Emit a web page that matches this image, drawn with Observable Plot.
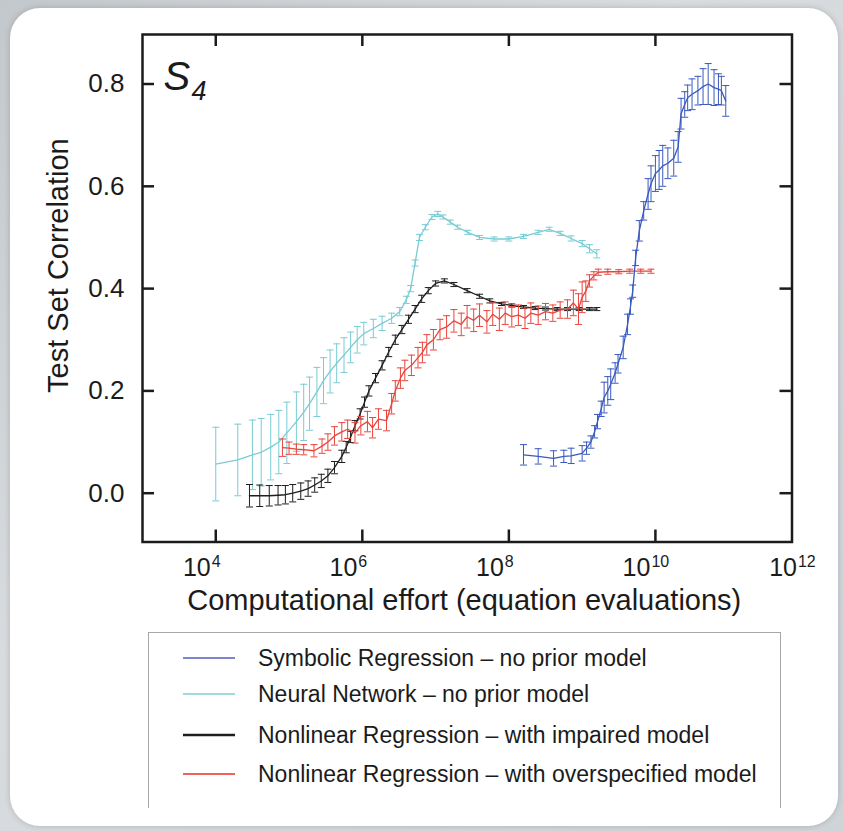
<!DOCTYPE html>
<html>
<head>
<meta charset="utf-8">
<script src="https://cdn.jsdelivr.net/npm/d3@7"></script>
<script src="https://cdn.jsdelivr.net/npm/@observablehq/plot@0.6"></script>
<style>
  html, body { margin: 0; padding: 0; }
  body { width: 843px; height: 831px; overflow: hidden; position: relative;
         background: linear-gradient(135deg, #c3c8cc 0%, #d8dcdf 40%, #cfd4d8 100%);
         font-family: "Liberation Sans", Arial, Helvetica, sans-serif; color: #1b1b1b; }
  #card { position: absolute; left: 10px; top: 8px; width: 828px; height: 818px;
          background: #fff; border-radius: 30px; box-shadow: 0 0 6px rgba(0,0,0,0.18); }
  #chart { position: absolute; left: 0; top: 0; }
  #legend { position: absolute; left: 148px; top: 632px; width: 631px; height: 175px;
            border: 1px solid #a7a7a7; border-bottom: none; }
  .row { position: absolute; left: 0; height: 30px; display: flex; align-items: center; }
  .row svg { margin-left: 34px; }
  .row span { margin-left: 23px; font-size: 23px; white-space: nowrap; }
</style>
</head>
<body>
<div id="card"></div>
<div id="chart"></div>
<div id="legend"></div>
<script>
// ---------- data (x as log10 of equation evaluations) ----------
const seriesNames = [
  "Symbolic Regression \u2013 no prior model",
  "Neural Network \u2013 no prior model",
  "Nonlinear Regression \u2013 with impaired model",
  "Nonlinear Regression \u2013 with overspecified model"
];
const seriesColors = ["#3a59c0", "#79ccd4", "#1e1e1e", "#e8453c"];
const legendColors = ["#7d86cc", "#9fdade", "#1e1e1e", "#f0625b"];

// Symbolic Regression
const srLogX = [8.20,8.40,8.61,8.75,8.85,9.00,9.06,9.12,9.17,9.21,9.26,9.30,9.35,9.39,9.45,9.49,9.56,9.62,9.66,9.69,9.73,9.78,9.84,9.90,9.94,10.00,10.05,10.10,10.17,10.25,10.31,10.35,10.40,10.44,10.50,10.58,10.65,10.72,10.80,10.86,10.90,10.96];
const srY    = [0.075,0.072,0.068,0.072,0.073,0.078,0.088,0.100,0.120,0.140,0.165,0.187,0.200,0.213,0.235,0.253,0.285,0.330,0.365,0.395,0.460,0.513,0.552,0.585,0.605,0.625,0.632,0.640,0.645,0.655,0.677,0.742,0.760,0.773,0.780,0.787,0.795,0.800,0.793,0.790,0.787,0.767];
const srErr  = [0.020,0.015,0.015,0.012,0.015,0.015,0.012,0.012,0.012,0.014,0.015,0.030,0.028,0.030,0.020,0.018,0.022,0.020,0.015,0.012,0.015,0.020,0.018,0.030,0.035,0.035,0.038,0.040,0.030,0.035,0.030,0.030,0.025,0.025,0.030,0.028,0.035,0.040,0.035,0.030,0.028,0.030];

// Neural Network
const nnLogX = [4.00,4.30,4.50,4.62,4.75,4.86,4.97,5.10,5.20,5.28,5.38,5.47,5.56,5.65,5.75,5.84,5.93,6.02,6.15,6.27,6.40,6.51,6.60,6.66,6.72,6.78,6.86,6.95,7.03,7.10,7.20,7.30,7.44,7.60,7.80,8.00,8.20,8.40,8.55,8.70,8.85,9.00,9.10,9.20];
const nnY    = [0.057,0.065,0.075,0.080,0.090,0.100,0.118,0.140,0.158,0.175,0.198,0.220,0.238,0.254,0.270,0.285,0.300,0.312,0.322,0.332,0.342,0.355,0.378,0.400,0.450,0.500,0.520,0.540,0.546,0.540,0.530,0.520,0.510,0.500,0.497,0.497,0.502,0.510,0.516,0.508,0.498,0.488,0.478,0.468];
const nnErr  = [0.072,0.070,0.068,0.066,0.064,0.062,0.060,0.058,0.055,0.052,0.048,0.045,0.042,0.038,0.034,0.030,0.026,0.022,0.018,0.014,0.010,0.008,0.007,0.006,0.006,0.006,0.005,0.005,0.005,0.004,0.004,0.004,0.004,0.004,0.004,0.004,0.004,0.004,0.004,0.004,0.005,0.006,0.008,0.008];

// Nonlinear Regression, impaired model
const niLogX = [4.46,4.60,4.73,4.85,4.95,5.05,5.16,5.26,5.35,5.44,5.53,5.62,5.72,5.78,5.84,5.90,5.97,6.03,6.09,6.18,6.27,6.36,6.45,6.54,6.63,6.72,6.81,6.90,7.00,7.12,7.25,7.43,7.60,7.74,7.90,8.04,8.20,8.36,8.50,8.66,8.80,8.96,9.10,9.20];
const niY    = [-0.005,-0.005,-0.005,-0.004,-0.003,0.000,0.004,0.009,0.016,0.024,0.034,0.050,0.072,0.090,0.110,0.132,0.155,0.178,0.200,0.225,0.250,0.276,0.300,0.320,0.340,0.360,0.380,0.396,0.410,0.415,0.408,0.396,0.385,0.376,0.370,0.367,0.364,0.362,0.361,0.360,0.360,0.360,0.360,0.360];
const niErr  = [0.022,0.021,0.020,0.019,0.018,0.017,0.016,0.015,0.014,0.013,0.013,0.012,0.012,0.011,0.011,0.010,0.010,0.010,0.010,0.009,0.009,0.009,0.009,0.008,0.008,0.007,0.007,0.006,0.005,0.004,0.004,0.004,0.004,0.004,0.003,0.003,0.003,0.003,0.003,0.003,0.003,0.003,0.003,0.003];

// Nonlinear Regression, overspecified model
const noLogX = [4.91,5.00,5.10,5.20,5.34,5.45,5.53,5.62,5.72,5.80,5.90,5.98,6.07,6.14,6.22,6.33,6.40,6.45,6.52,6.58,6.67,6.76,6.82,6.88,6.97,7.06,7.15,7.25,7.35,7.43,7.52,7.60,7.70,7.78,7.87,7.95,8.04,8.13,8.22,8.30,8.40,8.50,8.60,8.70,8.80,8.88,8.95,9.00,9.05,9.10,9.16,9.22,9.35,9.50,9.65,9.80,9.94];
const noY    = [0.089,0.088,0.086,0.085,0.083,0.092,0.100,0.112,0.120,0.125,0.118,0.132,0.140,0.128,0.145,0.142,0.175,0.200,0.225,0.240,0.250,0.265,0.275,0.290,0.300,0.320,0.325,0.337,0.330,0.345,0.338,0.348,0.335,0.350,0.340,0.352,0.345,0.348,0.342,0.352,0.348,0.355,0.352,0.358,0.360,0.372,0.360,0.383,0.395,0.415,0.425,0.432,0.433,0.433,0.434,0.434,0.434];
const noErr  = [0.017,0.012,0.010,0.010,0.012,0.014,0.016,0.018,0.018,0.018,0.020,0.018,0.020,0.020,0.020,0.020,0.020,0.020,0.020,0.020,0.020,0.020,0.020,0.020,0.020,0.020,0.022,0.022,0.022,0.022,0.022,0.022,0.022,0.022,0.022,0.022,0.020,0.020,0.020,0.020,0.018,0.016,0.016,0.016,0.018,0.025,0.030,0.030,0.020,0.012,0.008,0.006,0.005,0.004,0.004,0.004,0.004];

const xTickValues = [1e4, 1e6, 1e8, 1e10];
const xLabelExponents = [4, 6, 8, 10, 12];
const yTickValues = [0, 0.2, 0.4, 0.6, 0.8];
const xTitle = "Computational effort (equation evaluations)";
const yTitle = "Test Set Correlation";
const panelLetter = "S";
const panelIndex = "4";

// ---------- build ----------
function rows(lx, y, e) { return lx.map((v, i) => ({x: 10 ** v, y: y[i], e: e[i]})); }
const series = [
  rows(srLogX, srY, srErr),
  rows(nnLogX, nnY, nnErr),
  rows(niLogX, niY, niErr),
  rows(noLogX, noY, noErr)
];

const cap = { draw(ctx, size) { const w = Math.sqrt(size / Math.PI); ctx.moveTo(-w, 0); ctx.lineTo(w, 0); } };

const W = 843, H = 625, mL = 142, mR = 51.5, mT = 34, mB = 83.5;
const plotW = W - mL - mR, plotH = H - mT - mB;
const tickLen = 12;
const ink = "#1b1b1b";

function seriesMarks(data, color) {
  return [
    Plot.ruleX(data, {x: "x", y1: d => d.y - d.e, y2: d => d.y + d.e, stroke: color, strokeWidth: 1}),
    Plot.dot(data, {x: "x", y: d => d.y + d.e, symbol: cap, r: 3.5, stroke: color, fill: "none", strokeWidth: 1}),
    Plot.dot(data, {x: "x", y: d => d.y - d.e, symbol: cap, r: 3.5, stroke: color, fill: "none", strokeWidth: 1}),
    Plot.line(data, {x: "x", y: "y", stroke: color, strokeWidth: 1.3})
  ];
}

const drawOrder = [1, 2, 3, 0];

const chart = Plot.plot({
  width: W, height: H,
  marginLeft: mL, marginRight: mR, marginTop: mT, marginBottom: mB,
  style: {background: "transparent", fontFamily: "'Liberation Sans', Arial, Helvetica, sans-serif", color: ink, overflow: "visible"},
  x: {type: "log", domain: [1e3, 10 ** 11.864], axis: null},
  y: {domain: [-0.0954, 0.8968], axis: null},
  marks: [
    ...drawOrder.flatMap(i => seriesMarks(series[i], seriesColors[i])),
    Plot.frame({stroke: ink, strokeWidth: 2.5}),
    Plot.tickX(xTickValues, {x: d => d, insetBottom: plotH - tickLen, stroke: ink, strokeWidth: 2.5}),
    Plot.tickX(xTickValues, {x: d => d, insetTop: plotH - tickLen, stroke: ink, strokeWidth: 2.5}),
    Plot.tickY(yTickValues, {y: d => d, insetRight: plotW - tickLen, stroke: ink, strokeWidth: 2.5}),
    Plot.tickY(yTickValues, {y: d => d, insetLeft: plotW - tickLen, stroke: ink, strokeWidth: 2.5}),
    Plot.axisY({ticks: yTickValues, tickSize: 0, tickPadding: 18, fontSize: 26, tickFormat: d3.format(".1f"), label: null, fill: ink}),
    Plot.text(xLabelExponents, {x: d => 10 ** d, text: () => "10", frameAnchor: "bottom", lineAnchor: "middle", textAnchor: "end", dx: -5, dy: 26, fontSize: 25, fill: ink}),
    Plot.text(xLabelExponents, {x: d => 10 ** d, text: d => String(d), frameAnchor: "bottom", lineAnchor: "middle", textAnchor: "start", dx: -4, dy: 20, fontSize: 16, fill: ink}),
    Plot.text([xTitle], {frameAnchor: "bottom", lineAnchor: "middle", dy: 59, dx: -3, fontSize: 29, fill: ink}),
    Plot.text([yTitle], {frameAnchor: "left", y: [0.445], rotate: -90, lineAnchor: "middle", textAnchor: "middle", dx: -84, fontSize: 29, fill: ink}),
    Plot.text([panelLetter], {frameAnchor: "top-left", lineAnchor: "top", textAnchor: "start", dx: 21, dy: 27, fontSize: 40, fontStyle: "italic", fill: ink}),
    Plot.text([panelIndex], {frameAnchor: "top-left", lineAnchor: "top", textAnchor: "start", dx: 49, dy: 46, fontSize: 27, fontStyle: "italic", fill: ink})
  ]
});
document.getElementById("chart").appendChild(chart);

// legend
const legend = document.getElementById("legend");
const rowCenters = [25, 61, 102, 141];
seriesNames.forEach((name, i) => {
  const r = document.createElement("div");
  r.className = "row";
  r.style.top = (rowCenters[i] - 15) + "px";
  r.innerHTML = `<svg width="52" height="4"><line x1="0" y1="2" x2="52" y2="2" stroke="${legendColors[i]}" stroke-width="${i === 2 ? 2.5 : 2}"/></svg><span>${name}</span>`;
  legend.appendChild(r);
});
</script>
</body>
</html>
